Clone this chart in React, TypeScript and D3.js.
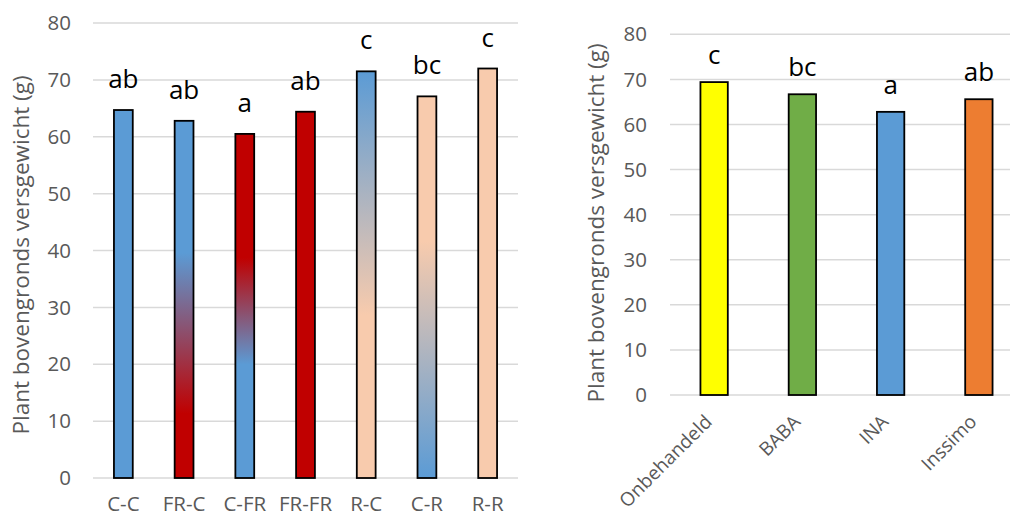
import React from "react";
import * as d3 from "d3";

// ---------- data ----------
const leftCategories = ["C-C", "FR-C", "C-FR", "FR-FR", "R-C", "C-R", "R-R"];
const leftValues = [64.7, 62.8, 60.5, 64.4, 71.5, 67.1, 72.0];
const leftLetters = ["ab", "ab", "a", "ab", "c", "bc", "c"];

const rightCategories = ["Onbehandeld", "BABA", "INA", "Inssimo"];
const rightValues = [69.4, 66.7, 62.8, 65.6];
const rightLetters = ["c", "bc", "a", "ab"];

const yTicks = [0, 10, 20, 30, 40, 50, 60, 70, 80];
const yTitle = "Plant bovengronds versgewicht (g)";

// ---------- styles ----------
const BLUE = "#5B9BD5";
const RED = "#C00000";
const PEACH = "#F8CBAD";
const FONT = "'Open Sans', sans-serif";
const TICK_COLOR = "#595959";
const GRID_COLOR = "#D9D9D9";

type Stop = { offset: number; color: string };
const gradients: Record<string, Stop[]> = {
  "g-frc": [
    { offset: 0.37, color: BLUE },
    { offset: 0.82, color: RED },
  ],
  "g-cfr": [
    { offset: 0.36, color: RED },
    { offset: 0.67, color: BLUE },
  ],
  "g-rc": [
    { offset: 0.0, color: BLUE },
    { offset: 0.6, color: PEACH },
  ],
  "g-cr": [
    { offset: 0.38, color: PEACH },
    { offset: 1.0, color: BLUE },
  ],
};
const leftFills = [BLUE, "url(#g-frc)", "url(#g-cfr)", RED, "url(#g-rc)", "url(#g-cr)", PEACH];
const rightFills = ["#FFFF00", "#70AD47", BLUE, "#ED7D31"];

type ChartProps = {
  cats: string[];
  values: number[];
  letters: string[];
  fills: string[];
  xRange: [number, number];
  yRange: [number, number];
  tickX: number;
  titleX: number;
  titleY: number;
  letterGap: number;
  rotateLabels: boolean;
};

function BarChart(p: ChartProps) {
  const x = d3
    .scaleBand<string>()
    .domain(p.cats)
    .range(p.xRange)
    .paddingInner(0.69)
    .paddingOuter(0.345);
  const y = d3.scaleLinear().domain([0, 80]).range(p.yRange);
  const bw = x.bandwidth();
  return (
    <g>
      {yTicks.map((t) => (
        <g key={t}>
          <line
            x1={p.xRange[0]}
            x2={p.xRange[1]}
            y1={y(t)}
            y2={y(t)}
            stroke={GRID_COLOR}
            strokeWidth={1.5}
          />
          <text
            x={p.tickX}
            y={y(t)}
            dy="0.35em"
            textAnchor="end"
            fontFamily={FONT}
            fontSize={20.5}
            fill={TICK_COLOR}
          >
            {t}
          </text>
        </g>
      ))}
      <text
        transform={`translate(${p.titleX},${p.titleY}) rotate(-90)`}
        textAnchor="middle"
        fontFamily={FONT}
        fontSize={22.5}
        fill={TICK_COLOR}
      >
        {yTitle}
      </text>
      {p.cats.map((c, i) => (
        <g key={c}>
          <rect
            x={x(c)!}
            y={y(p.values[i])}
            width={bw}
            height={y(0) - y(p.values[i])}
            fill={p.fills[i]}
            stroke="#000"
            strokeWidth={1.8}
          />
          <text
            x={x(c)! + bw / 2}
            y={y(p.values[i]) - p.letterGap}
            textAnchor="middle"
            fontFamily={FONT}
            fontSize={26}
            fill="#000"
          >
            {p.letters[i]}
          </text>
          {p.rotateLabels ? (
            <text
              transform={`translate(${x(c)! + bw / 2 - 1},${y(0) + 28}) rotate(-45)`}
              textAnchor="end"
              fontFamily={FONT}
              fontSize={19}
              fill={TICK_COLOR}
            >
              {c}
            </text>
          ) : (
            <text
              x={x(c)! + bw / 2}
              y={y(0) + 33}
              textAnchor="middle"
              fontFamily={FONT}
              fontSize={20.5}
              fill={TICK_COLOR}
            >
              {c}
            </text>
          )}
        </g>
      ))}
    </g>
  );
}

export default function App() {
  return (
    <div style={{ position: "absolute", left: 0, top: 0 }}>
      <svg width={1010} height={517} style={{ display: "block", background: "#fff" }}>
        <defs>
          {Object.entries(gradients).map(([id, stops]) => (
            <linearGradient key={id} id={id} x1="0" y1="0" x2="0" y2="1">
              {stops.map((s, k) => (
                <stop key={k} offset={s.offset} stopColor={s.color} />
              ))}
            </linearGradient>
          ))}
        </defs>
        <BarChart
          cats={leftCategories}
          values={leftValues}
          letters={leftLetters}
          fills={leftFills}
          xRange={[93, 518]}
          yRange={[478, 23]}
          tickX={71}
          titleX={29}
          titleY={255}
          letterGap={22}
          rotateLabels={false}
        />
        <BarChart
          cats={rightCategories}
          values={rightValues}
          letters={rightLetters}
          fills={rightFills}
          xRange={[670, 1023]}
          yRange={[395, 34.3]}
          tickX={647}
          titleX={604}
          titleY={223}
          letterGap={18}
          rotateLabels={true}
        />
      </svg>
    </div>
  );
}
